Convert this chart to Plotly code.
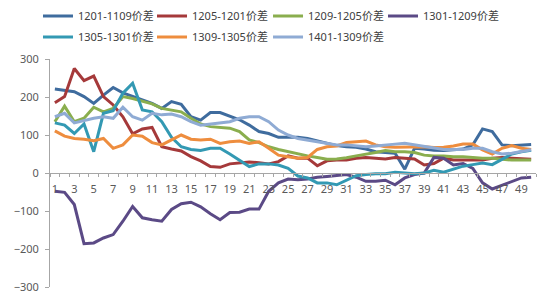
import plotly.graph_objects as go

categories = list(range(1, 51))

s1201_1109 = [221, 218, 214, 201, 183, 205, 225, 211, 201, 192, 183, 170, 188, 181, 148, 139, 159, 159, 150, 140,
              126, 109, 104, 94, 94, 94, 91, 85, 78, 72, 69, 68, 63, 56, 54, 52, 10, 65, 63, 60,
              59, 61, 63, 74, 116, 109, 74, 72, 74, 75]
s1205_1201 = [185, 201, 275, 243, 255, 201, 179, 148, 103, 116, 120, 69, 63, 58, 43, 32, 17, 15, 24, 27,
              29, 27, 24, 30, 45, 39, 39, 19, 32, 34, 34, 39, 41, 39, 37, 41, 39, 37, 21, 25,
              39, 34, 34, 34, 34, 39, 41, 39, 37, 36]
s1209_1205 = [135, 176, 135, 144, 173, 161, 170, 201, 196, 188, 182, 170, 166, 161, 144, 129, 122, 120, 118, 109,
              87, 80, 69, 62, 56, 50, 45, 41, 36, 37, 40, 45, 49, 54, 59, 56, 56, 54, 47, 45,
              45, 43, 43, 41, 39, 39, 37, 34, 34, 34]
s1301_1209 = [-48, -51, -83, -186, -184, -171, -162, -127, -88, -118, -123, -127, -96, -81, -77, -89, -107, -123, -104, -103,
              -95, -95, -48, -26, -16, -18, -16, -11, -9, -7, -4, -11, -22, -22, -19, -31, -13, -4, 0, 41,
              39, 21, 25, 12, -26, -42, -33, -22, -13, -11]
s1305_1301 = [132, 126, 104, 129, 56, 157, 164, 210, 236, 166, 161, 135, 94, 69, 62, 59, 65, 65, 50, 34,
              17, 24, 24, 21, 12, -8, -13, -26, -26, -31, -18, -7, -4, -2, -2, 2, 0, -2, 0, 7,
              2, 9, 18, 22, 26, 22, 37, 50, 56, 60]
s1309_1305 = [111, 97, 91, 89, 85, 91, 65, 74, 100, 97, 80, 74, 87, 100, 89, 87, 89, 78, 82, 84,
              78, 82, 65, 47, 43, 39, 41, 62, 69, 71, 80, 82, 84, 74, 69, 68, 68, 69, 69, 67,
              68, 71, 76, 76, 61, 50, 65, 72, 65, 62]
s1401_1309 = [148, 157, 132, 139, 144, 148, 144, 173, 148, 139, 157, 153, 155, 148, 135, 126, 129, 132, 135, 144,
              148, 148, 135, 113, 100, 91, 87, 82, 78, 74, 74, 71, 69, 71, 74, 76, 78, 74, 69, 65,
              62, 62, 62, 65, 65, 56, 50, 52, 56, 61]

series_names = ["1201-1109价差", "1205-1201价差", "1209-1205价差", "1301-1209价差",
                "1305-1301价差", "1309-1305价差", "1401-1309价差"]
series_values = [s1201_1109, s1205_1201, s1209_1205, s1301_1209, s1305_1301, s1309_1305, s1401_1309]
colors = ["#3F6C9E", "#A5393A", "#8AAE4E", "#5B4A86", "#3399B3", "#EE8D3E", "#8FABD4"]

y_ticks = [-300, -200, -100, 0, 100, 200, 300]
x_tick_labels = [str(c) if c % 2 == 1 else "" for c in categories]

FONT = "Noto Sans, Noto Sans CJK SC, sans-serif"

# legend placement (paper coords): column x and row y
legend_cols = [-0.0247, 0.2099, 0.4486, 0.6852]
legend_rows = [1.189, 1.096]

fig = go.Figure()
legend_layout = {}
for i, (name, vals, col) in enumerate(zip(series_names, series_values, colors)):
    key = "legend" if i == 0 else f"legend{i + 1}"
    fig.add_trace(go.Scatter(
        x=categories, y=vals, name=name, mode="lines",
        line=dict(color=col, width=3),
        legend=key,
    ))
    legend_layout[key] = dict(
        orientation="h", x=legend_cols[i % 4], xanchor="left",
        y=legend_rows[i // 4], yanchor="middle", itemwidth=30,
        font=dict(family=FONT, size=11, color="#404040"), bgcolor="rgba(0,0,0,0)")

fig.update_layout(
    width=550, height=300,
    margin=dict(l=50, r=14, t=59, b=13, autoexpand=False),
    paper_bgcolor="white", plot_bgcolor="white",
    font=dict(family=FONT, size=11, color="#595959"),
    showlegend=True,
    xaxis=dict(
        range=[0.5, 50.5], anchor="free", position=0.5,
        tickmode="array", tickvals=categories, ticktext=x_tick_labels,
        ticks="", showgrid=False, zeroline=False,
        showline=True, linecolor="#A6A6A6", linewidth=1,
        ticklabelstandoff=6,
        minor=dict(tickmode="array", tickvals=[c + 0.5 for c in [0] + categories], ticks="outside",
                   ticklen=3, tickcolor="#A6A6A6", showgrid=False),
        tickfont=dict(size=11, color="#595959"),
    ),
    yaxis=dict(
        range=[-300, 300], tickmode="array", tickvals=y_ticks,
        ticks="outside", ticklen=4, tickcolor="#A6A6A6",
        showgrid=False, zeroline=False,
        showline=True, linecolor="#A6A6A6", linewidth=1,
        ticklabelstandoff=4,
        tickfont=dict(size=11, color="#595959"),
    ),
    **legend_layout,
)

fig.write_html("out.html")
